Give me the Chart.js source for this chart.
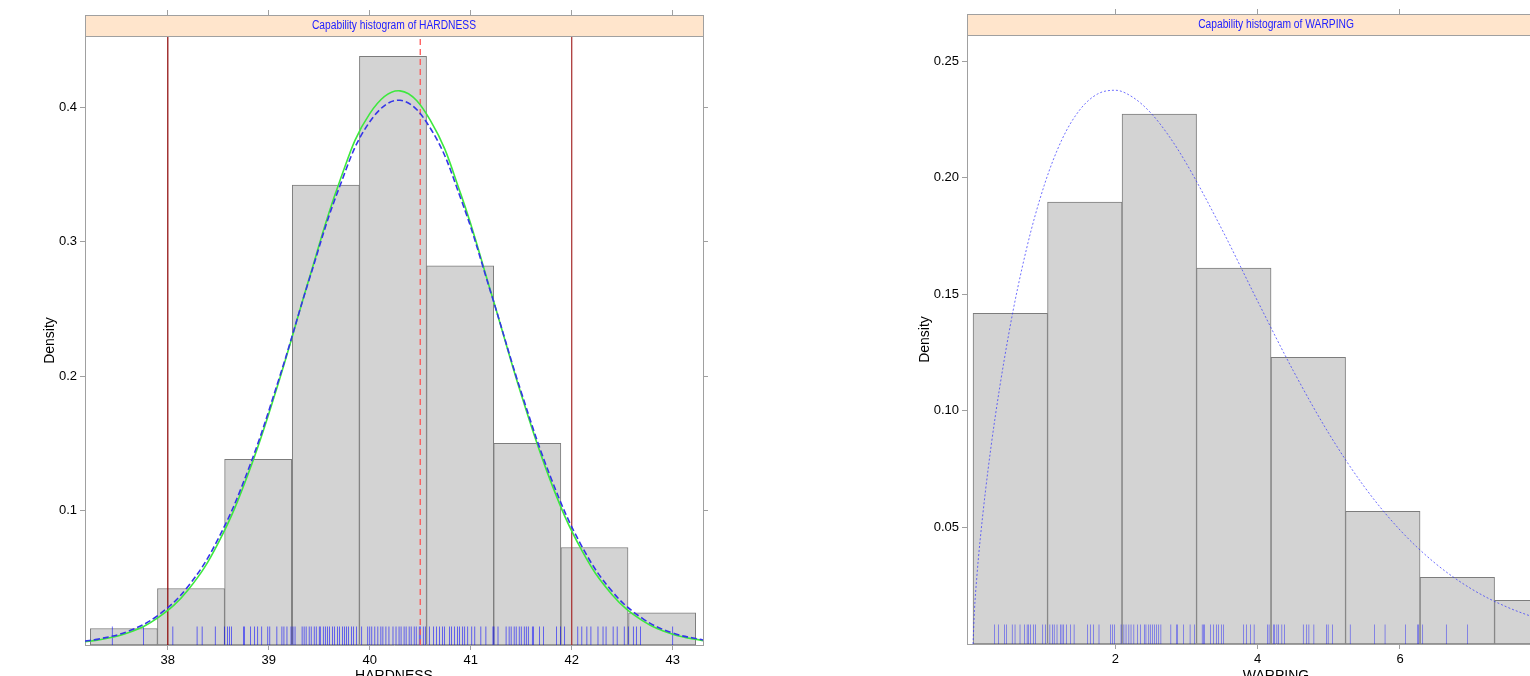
<!DOCTYPE html>
<html>
<head>
<meta charset="utf-8">
<script src="https://cdn.jsdelivr.net/npm/chart.js@4.4.1/dist/chart.umd.min.js"></script>
<style>
  html, body { margin: 0; padding: 0; background: #fff; overflow: hidden; width: 1530px; height: 676px; }
  .panel { position: absolute; top: 0; width: 760px; height: 700px; }
  #hardBox { left: 0; }
  #warpBox { left: 880px; }
</style>
</head>
<body>
<div id="hardBox" class="panel"><canvas id="hardChart" width="760" height="700"></canvas></div>
<div id="warpBox" class="panel"><canvas id="warpChart" width="760" height="700"></canvas></div>
<script>
  // HARDNESS panel
  const hardBinMids = [37.565, 38.23, 38.895, 39.565, 40.23, 40.895, 41.56, 42.225, 42.895]
  const hardDensity = [0.0123, 0.042, 0.138, 0.342, 0.4376, 0.282, 0.150, 0.0725, 0.024]
  const hardRug = [37.45, 37.76, 38.05, 38.29, 38.34, 38.47, 38.56, 38.59, 38.61, 38.63, 38.75, 38.76,
    38.82, 38.86, 38.89, 38.93, 38.99, 39.01, 39.08, 39.13, 39.15, 39.18, 39.22, 39.24, 39.26, 39.33,
    39.35, 39.37, 39.40, 39.42, 39.45, 39.47, 39.50, 39.51, 39.54, 39.56, 39.58, 39.60, 39.63, 39.65,
    39.68, 39.70, 39.73, 39.75, 39.77, 39.79, 39.82, 39.84, 39.87, 39.92, 39.98, 40.00, 40.02, 40.05,
    40.08, 40.11, 40.13, 40.16, 40.19, 40.23, 40.26, 40.29, 40.31, 40.34, 40.36, 40.39, 40.41, 40.44,
    40.46, 40.49, 40.50, 40.53, 40.55, 40.59, 40.63, 40.66, 40.69, 40.72, 40.74, 40.79, 40.81, 40.84,
    40.87, 40.89, 40.92, 40.94, 40.97, 41.01, 41.04, 41.10, 41.15, 41.22, 41.23, 41.27, 41.35, 41.38,
    41.40, 41.43, 41.45, 41.48, 41.50, 41.53, 41.55, 41.57, 41.61, 41.62, 41.68, 41.72, 41.85, 41.89,
    41.93, 42.06, 42.10, 42.15, 42.19, 42.26, 42.31, 42.34, 42.41, 42.45, 42.52, 42.56, 42.61, 42.64,
    42.68, 43.00]
  const hardCurveX = [37.18, 37.3, 37.6, 37.9, 38.2, 38.5, 38.8, 39.1, 39.4, 39.7, 40.0, 40.3, 40.6,
    40.9, 41.2, 41.5, 41.8, 42.1, 42.4, 42.7, 43.0, 43.3]
  const hardFitGreen = [0.0024, 0.0036, 0.0089, 0.0201, 0.0409, 0.0760, 0.1281, 0.1960, 0.2725, 0.3443,
    0.3951, 0.4120, 0.3901, 0.3356, 0.2623, 0.1862, 0.1200, 0.0703, 0.0374, 0.0181, 0.0080, 0.0032]
  const hardFitBlue = [0.0029, 0.0042, 0.0100, 0.0219, 0.0435, 0.0791, 0.1310, 0.1976, 0.2717, 0.3405,
    0.3890, 0.4050, 0.3842, 0.3322, 0.2618, 0.1880, 0.1231, 0.0734, 0.0399, 0.0198, 0.0089, 0.0037]
  const hardLSL = 38, hardUSL = 42, hardTarget = 40.5
  const hardXRange = [37.18, 43.3]
  const hardYRange = [0, 0.4528]
  const hardXTicks = [38, 39, 40, 41, 42, 43]
  const hardXLabels = ['38', '39', '40', '41', '42', '43']
  const hardYTicks = [0.1, 0.2, 0.3, 0.4]
  const hardYLabels = ['0.1', '0.2', '0.3', '0.4']
  const hardRugHeight = 0.0138

  // WARPING panel
  const warpBinMids = [0.5235, 1.5705, 2.6175, 3.6645, 4.7115, 5.7585, 6.8055, 7.8525]
  const warpDensity = [0.1418, 0.1895, 0.2273, 0.1612, 0.1230, 0.0569, 0.0286, 0.0187]
  const warpRug = [0.30, 0.36, 0.44, 0.47, 0.55, 0.59, 0.66, 0.72, 0.76, 0.78, 0.81, 0.85, 0.88, 0.98,
    1.02, 1.08, 1.12, 1.14, 1.18, 1.23, 1.25, 1.27, 1.31, 1.37, 1.42, 1.61, 1.65, 1.69, 1.77, 1.93,
    1.96, 1.99, 2.08, 2.12, 2.15, 2.19, 2.22, 2.26, 2.31, 2.35, 2.41, 2.43, 2.47, 2.49, 2.52, 2.55,
    2.58, 2.61, 2.64, 2.78, 2.86, 2.87, 2.96, 3.05, 3.11, 3.22, 3.24, 3.25, 3.34, 3.38, 3.42, 3.45,
    3.49, 3.52, 3.80, 3.84, 3.90, 3.95, 4.14, 4.16, 4.22, 4.24, 4.27, 4.29, 4.34, 4.38, 4.64, 4.69,
    4.72, 4.79, 4.97, 4.99, 5.05, 5.30, 5.64, 5.79, 6.08, 6.25, 6.26, 6.32, 6.65, 6.95, 8.05, 8.38]
  const warpCurveX = [0, 0.02, 0.05, 0.1, 0.25, 0.5, 0.75, 1.0, 1.25, 1.5, 1.75, 2.0, 2.25, 2.5, 2.75,
    3.0, 3.5, 4.0, 4.5, 5.0, 5.5, 6.0, 6.5, 7.0, 7.5, 8.0, 8.5]
  const warpFit = [0, 0.0145, 0.0276, 0.0447, 0.0840, 0.1327, 0.1693, 0.1967, 0.2164, 0.2291, 0.2359,
    0.2375, 0.2344, 0.2277, 0.2180, 0.2060, 0.1777, 0.1470, 0.1172, 0.0903, 0.0674, 0.0489, 0.0345,
    0.0237, 0.0159, 0.0104, 0.0066]
  const warpXRange = [-0.085, 8.6]
  const warpYRange = [0, 0.2612]
  const warpXTicks = [2, 4, 6, 8]
  const warpXLabels = ['2', '4', '6', '8']
  const warpYTicks = [0.05, 0.10, 0.15, 0.20, 0.25]
  const warpYLabels = ['0.05', '0.10', '0.15', '0.20', '0.25']
  const warpRugHeight = 0.0084

  const frameColor = '#a0a0a0'
  Chart.defaults.font.family = '"Liberation Sans", Arial, Helvetica, sans-serif'
  Chart.defaults.color = '#000'

  // lattice-like strip above the panel
  const stripPlugin = {
    id: 'strip',
    afterDraw(chart, args, opts) {
      const { ctx, chartArea } = chart
      const h = opts.height
      const w = chartArea.right - chartArea.left
      ctx.save()
      ctx.fillStyle = '#ffe5cc'
      ctx.fillRect(chartArea.left, chartArea.top - h, w, h)
      ctx.strokeStyle = frameColor
      ctx.lineWidth = 1
      ctx.strokeRect(Math.round(chartArea.left) + 0.5, Math.round(chartArea.top - h) + 0.5, Math.round(w), h)
      ctx.fillStyle = '#2020ff'
      ctx.font = '12.5px "Liberation Sans", Arial, sans-serif'
      ctx.textAlign = 'center'
      ctx.textBaseline = 'middle'
      ctx.translate(chartArea.left + w / 2, chartArea.top - h / 2 + 0.5)
      ctx.scale(0.82, 1)
      ctx.fillText(opts.text, 0, 0)
      ctx.restore()
    }
  }

  function xy(xs, ys) {
    return xs.map((x, i) => ({ x: x, y: ys[i] }))
  }

  function tickAxis(range, pos, tickVals, labels, size, extra) {
    const horizontal = pos === 'top' || pos === 'bottom'
    return Object.assign({
      type: 'linear',
      position: pos,
      min: range[0],
      max: range[1],
      offset: false,
      afterBuildTicks: s => { s.ticks = tickVals.map(v => ({ value: v })) },
      afterFit: s => { if (horizontal) s.height = size; else s.width = size },
      border: { display: true, color: frameColor, width: 1 },
      grid: { display: true, offset: false, drawOnChartArea: false, drawTicks: true, tickLength: 5, color: frameColor },
      ticks: {
        display: !!labels,
        autoSkip: false,
        maxRotation: 0,
        padding: 3,
        font: { size: 13 },
        color: '#000',
        callback: (v, i) => labels ? labels[i] : ''
      }
    }, extra || {})
  }

  function panelChart(canvasId, p) {
    const ctx = document.getElementById(canvasId)
    const datasets = [
      {
        type: 'bar',
        data: xy(p.binMids, p.density),
        xAxisID: 'x',
        grouped: false,
        barPercentage: 1,
        categoryPercentage: 1,
        backgroundColor: '#d3d3d3',
        borderColor: '#7c7c7c',
        borderWidth: 1,
        borderSkipped: false,
        order: 6
      },
      {
        type: 'bar',
        data: p.rug.map(v => ({ x: v, y: [0, p.rugHeight] })),
        xAxisID: 'xr',
        grouped: false,
        maxBarThickness: 1,
        backgroundColor: 'rgba(0, 0, 255, 0.75)',
        borderWidth: 0,
        order: 5
      }
    ].concat(p.lines)

    return new Chart(ctx, {
      type: 'bar',
      data: { datasets: datasets },
      plugins: [stripPlugin],
      options: {
        responsive: false,
        animation: false,
        events: [],
        layout: { padding: 0 },
        plugins: {
          legend: { display: false },
          tooltip: { enabled: false },
          strip: { text: p.title, height: 21 }
        },
        scales: {
          x: tickAxis(p.xRange, 'bottom', p.xTicks, p.xLabels, p.bottomH, {
            title: { display: true, text: p.xTitle, font: { size: 14 }, padding: { top: 0, bottom: 15 } }
          }),
          x2: tickAxis(p.xRange, 'top', p.xTicks, null, p.topH, {
            grid: { display: true, offset: false, drawOnChartArea: false, drawTicks: true, tickLength: 26, color: frameColor }
          }),
          xr: { type: 'linear', display: false, offset: false, min: p.xRange[0], max: p.xRange[1] },
          y: tickAxis(p.yRange, 'left', p.yTicks, p.yLabels, p.leftW, {
            title: { display: true, text: 'Density', font: { size: 14 }, padding: { top: p.titleLeft, bottom: 0 } }
          }),
          y2: tickAxis(p.yRange, 'right', p.yTicks, null, p.rightW)
        }
      }
    })
  }

  function vline(x, yRange, color, dash, width) {
    return {
      type: 'line',
      data: [{ x: x, y: yRange[0] }, { x: x, y: yRange[1] }],
      borderColor: color,
      borderWidth: width,
      borderDash: dash,
      pointRadius: 0,
      order: 3
    }
  }

  function hardnessChart() {
    panelChart('hardChart', {
      title: 'Capability histogram of HARDNESS',
      xTitle: 'HARDNESS',
      binMids: hardBinMids, density: hardDensity,
      rug: hardRug, rugHeight: hardRugHeight,
      xRange: hardXRange, yRange: hardYRange,
      xTicks: hardXTicks, xLabels: hardXLabels,
      yTicks: hardYTicks, yLabels: hardYLabels,
      leftW: 85, rightW: 57, topH: 36, bottomH: 55, titleLeft: 42,
      lines: [
        vline(hardLSL, hardYRange, '#8b0000', [], 1.2),
        vline(hardUSL, hardYRange, '#a52a2a', [], 1.2),
        vline(hardTarget, hardYRange, '#ff5555', [6, 4], 1.3),
        {
          type: 'line',
          data: xy(hardCurveX, hardFitGreen),
          borderColor: '#3ee83e',
          borderWidth: 1.6,
          pointRadius: 0,
          tension: 0.4,
          order: 2
        },
        {
          type: 'line',
          data: xy(hardCurveX, hardFitBlue),
          borderColor: '#3535e8',
          borderWidth: 1.6,
          borderDash: [6, 3],
          pointRadius: 0,
          tension: 0.4,
          order: 1
        }
      ]
    })
  }

  function warpingChart() {
    panelChart('warpChart', {
      title: 'Capability histogram of WARPING',
      xTitle: 'WARPING',
      binMids: warpBinMids, density: warpDensity,
      rug: warpRug, rugHeight: warpRugHeight,
      xRange: warpXRange, yRange: warpYRange,
      xTicks: warpXTicks, xLabels: warpXLabels,
      yTicks: warpYTicks, yLabels: warpYLabels,
      leftW: 87, rightW: 55, topH: 35, bottomH: 56, titleLeft: 37,
      lines: [
        {
          type: 'line',
          data: xy(warpCurveX, warpFit),
          borderColor: 'rgba(50, 50, 255, 0.7)',
          borderWidth: 1,
          borderDash: [2, 2],
          pointRadius: 0,
          cubicInterpolationMode: 'monotone',
          order: 1
        }
      ]
    })
  }

  hardnessChart()
  warpingChart()
</script>
</body>
</html>
